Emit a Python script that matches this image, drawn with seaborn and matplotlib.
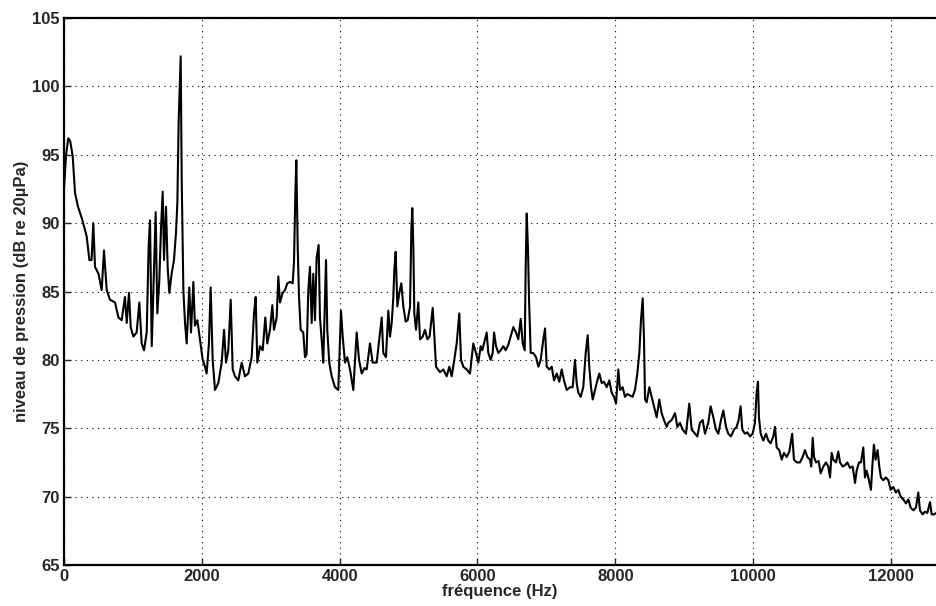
import matplotlib
matplotlib.use("Agg")
import matplotlib.pyplot as plt
import seaborn as sns
import pandas as pd

freq_hz = [
    0, 30, 62, 90, 126, 160, 203, 256, 305, 330, 368, 400, 425, 450, 500, 547, 580, 620, 667, 740,
    790, 837, 885, 910, 943, 968, 1006, 1054, 1093, 1127, 1161, 1200, 1228, 1248, 1273, 1296, 1330, 1354, 1383, 1408,
    1432, 1451, 1480, 1504, 1528, 1562, 1596, 1625, 1645, 1664, 1680, 1693, 1708, 1732, 1756, 1780, 1818, 1843, 1877, 1900,
    1935, 1973, 2012, 2046, 2070, 2103, 2128, 2157, 2191, 2239, 2288, 2322, 2351, 2384, 2419, 2448, 2481, 2529, 2578, 2626,
    2674, 2723, 2757, 2781, 2805, 2844, 2883, 2921, 2950, 2989, 3023, 3047, 3086, 3110, 3134, 3173, 3207, 3240, 3279, 3318,
    3337, 3356, 3371, 3391, 3410, 3434, 3472, 3497, 3520, 3545, 3569, 3594, 3617, 3642, 3666, 3695, 3714, 3743, 3762, 3802,
    3820, 3849, 3884, 3932, 3980, 4019, 4044, 4077, 4111, 4150, 4198, 4247, 4281, 4320, 4360, 4392, 4440, 4479, 4537, 4575,
    4610, 4633, 4672, 4706, 4730, 4755, 4779, 4793, 4813, 4837, 4866, 4895, 4924, 4958, 4987, 5021, 5040, 5054, 5069, 5083,
    5108, 5141, 5166, 5205, 5238, 5272, 5305, 5350, 5369, 5398, 5456, 5504, 5553, 5591, 5626, 5663, 5698, 5736, 5761, 5794,
    5843, 5891, 5939, 5978, 6012, 6046, 6070, 6109, 6133, 6157, 6191, 6220, 6240, 6269, 6302, 6336, 6375, 6409, 6447, 6481,
    6520, 6559, 6592, 6627, 6656, 6685, 6699, 6714, 6733, 6748, 6772, 6810, 6849, 6883, 6917, 6955, 6980, 7004, 7042, 7077,
    7110, 7149, 7187, 7222, 7255, 7294, 7342, 7381, 7415, 7439, 7463, 7497, 7535, 7570, 7599, 7622, 7647, 7672, 7705, 7739,
    7768, 7802, 7835, 7874, 7913, 7947, 7981, 8010, 8043, 8068, 8106, 8140, 8174, 8213, 8251, 8285, 8319, 8348, 8372, 8397,
    8416, 8431, 8455, 8493, 8527, 8561, 8600, 8638, 8672, 8706, 8745, 8769, 8817, 8866, 8900, 8938, 8977, 9025, 9073, 9108,
    9156, 9190, 9228, 9267, 9301, 9349, 9383, 9422, 9460, 9494, 9533, 9567, 9606, 9639, 9678, 9722, 9760, 9789, 9818, 9842,
    9881, 9915, 9954, 9992, 10026, 10050, 10070, 10084, 10109, 10147, 10186, 10220, 10254, 10292, 10317, 10341, 10379, 10414, 10447, 10486,
    10525, 10566, 10592, 10631, 10679, 10718, 10752, 10786, 10824, 10843, 10864, 10883, 10912, 10950, 10979, 11018, 11057, 11090, 11115, 11139,
    11163, 11202, 11235, 11260, 11299, 11332, 11366, 11405, 11444, 11478, 11502, 11535, 11564, 11598, 11622, 11646, 11680, 11709, 11733, 11752,
    11776, 11806, 11830, 11854, 11888, 11927, 11961, 11995, 12034, 12072, 12106, 12140, 12178, 12217, 12251, 12285, 12324, 12362, 12396, 12420,
    12459, 12493, 12527, 12566, 12590, 12624, 12653,
]

level_db = [
    92.5, 95.0, 96.2, 96.0, 94.9, 92.2, 91.2, 90.4, 89.5, 89.0, 87.3, 87.3, 90.0, 86.8, 86.3, 85.1, 88.0, 85.1, 84.4, 84.2,
    83.1, 82.9, 84.6, 82.7, 84.9, 82.4, 81.7, 82.0, 84.2, 81.2, 80.7, 82.0, 88.3, 90.2, 81.0, 84.9, 90.8, 83.4, 85.8, 89.7,
    92.3, 87.3, 91.2, 86.8, 84.9, 86.3, 87.3, 89.3, 91.5, 97.5, 100.0, 102.2, 93.2, 85.1, 82.7, 81.2, 85.3, 82.0, 85.7, 82.5,
    82.9, 81.5, 80.0, 79.5, 79.0, 81.2, 85.3, 80.0, 77.8, 78.3, 79.8, 82.2, 79.8, 80.7, 84.4, 79.3, 78.8, 78.5, 79.8, 78.8,
    79.0, 80.2, 83.4, 84.6, 79.8, 81.0, 80.7, 83.1, 81.2, 82.2, 84.0, 82.2, 83.1, 86.1, 84.2, 84.9, 85.1, 85.6, 85.7, 85.6,
    87.1, 91.9, 94.6, 88.3, 84.6, 82.2, 82.0, 80.2, 80.4, 85.1, 86.8, 82.7, 86.3, 82.9, 87.5, 88.4, 83.1, 81.2, 79.8, 87.3,
    82.2, 79.8, 78.8, 78.0, 77.8, 83.6, 81.7, 79.8, 80.2, 79.3, 77.8, 82.0, 80.0, 79.0, 79.4, 79.3, 81.2, 79.8, 79.8, 81.5,
    83.1, 80.5, 80.2, 83.6, 81.7, 82.7, 84.6, 86.6, 87.9, 83.9, 84.9, 85.6, 83.9, 82.8, 82.9, 83.9, 89.5, 91.1, 88.3, 83.4,
    82.2, 84.2, 81.5, 81.7, 82.2, 81.5, 81.7, 83.8, 82.2, 79.5, 79.1, 79.3, 78.8, 79.5, 78.8, 80.0, 81.2, 83.4, 80.0, 79.5,
    79.3, 79.0, 81.2, 80.5, 79.8, 81.0, 80.7, 81.5, 82.0, 80.5, 80.0, 80.5, 82.0, 81.0, 80.5, 80.7, 81.0, 80.7, 81.1, 81.7,
    82.4, 82.0, 81.5, 83.0, 81.2, 80.7, 86.8, 90.7, 88.0, 84.4, 80.5, 80.5, 80.2, 79.5, 80.0, 81.5, 82.3, 79.5, 79.3, 79.5,
    78.5, 79.0, 78.4, 79.3, 78.5, 77.8, 78.0, 78.0, 80.0, 78.3, 77.6, 77.3, 78.0, 80.5, 81.8, 79.5, 78.0, 77.1, 77.8, 78.5,
    79.0, 78.3, 78.4, 78.0, 78.5, 77.6, 77.3, 76.8, 79.3, 77.8, 78.0, 77.3, 77.5, 77.4, 77.3, 77.8, 79.0, 80.5, 82.9, 84.5,
    81.5, 77.1, 76.9, 78.0, 77.3, 76.6, 75.8, 77.1, 76.1, 75.6, 75.1, 75.4, 75.6, 76.1, 75.1, 75.4, 74.9, 74.6, 76.8, 74.9,
    74.6, 74.4, 75.4, 75.6, 74.6, 75.4, 76.6, 75.8, 74.9, 74.6, 75.6, 76.3, 75.1, 74.6, 74.4, 74.9, 75.1, 75.6, 76.6, 74.9,
    74.6, 74.7, 74.4, 74.6, 75.4, 77.6, 78.4, 75.8, 74.6, 74.1, 74.6, 74.1, 73.9, 74.4, 75.1, 73.6, 73.4, 72.7, 73.2, 72.9,
    73.3, 74.6, 72.7, 72.5, 72.5, 72.9, 73.4, 72.9, 72.7, 72.2, 74.3, 72.9, 72.5, 72.6, 71.7, 72.2, 72.5, 72.2, 71.4, 73.2,
    72.7, 72.5, 73.3, 72.5, 72.2, 72.3, 72.5, 72.1, 72.2, 71.0, 71.9, 72.5, 72.5, 73.6, 71.4, 71.9, 71.2, 70.5, 72.5, 73.8,
    72.7, 73.4, 72.2, 71.4, 71.2, 71.4, 71.2, 70.5, 70.7, 70.3, 70.5, 70.0, 69.8, 69.5, 69.8, 69.2, 69.0, 69.2, 70.3, 69.0,
    68.7, 68.9, 68.8, 69.6, 68.7, 68.7, 68.8,
]

x_ticks = [0, 2000, 4000, 6000, 8000, 10000, 12000]
y_ticks = [65, 70, 75, 80, 85, 90, 95, 100, 105]
x_label = "fréquence (Hz)"
y_label = "niveau de pression (dB re 20µPa)"

sns.set_style("ticks")
plt.rcParams["font.family"] = ["Liberation Sans", "DejaVu Sans"]

df = pd.DataFrame({"f": freq_hz, "L": level_db})

fig = plt.figure(figsize=(9.36, 6.06), dpi=100)
ax = fig.add_axes([64 / 936, 41 / 606, (936 - 64) / 936, (588 - 41) / 606])

sns.lineplot(data=df, x="f", y="L", ax=ax, color="black", linewidth=1.5,
             estimator=None, sort=False)

ax.set_xlim(0, 12653)
ax.set_ylim(65, 105)
ax.set_xticks(x_ticks)
ax.set_yticks(y_ticks)
ax.set_xticklabels([str(t) for t in x_ticks], fontsize=12, fontweight="bold")
ax.set_yticklabels([str(t) for t in y_ticks], fontsize=12, fontweight="bold")
ax.tick_params(direction="in", length=5, width=1, top=False, right=False, pad=3)
ax.grid(True, linestyle=(0, (1, 4)), color="black", linewidth=0.8)
ax.set_xlabel(x_label, fontsize=12, fontweight="bold", labelpad=0)
ax.set_ylabel(y_label, fontsize=12, fontweight="bold", labelpad=2)

for side in ["left", "top", "bottom"]:
    ax.spines[side].set_visible(True)
    ax.spines[side].set_color("black")
    ax.spines[side].set_linewidth(1.6)
ax.spines["right"].set_visible(False)

fig.savefig("out.png", dpi=100)
